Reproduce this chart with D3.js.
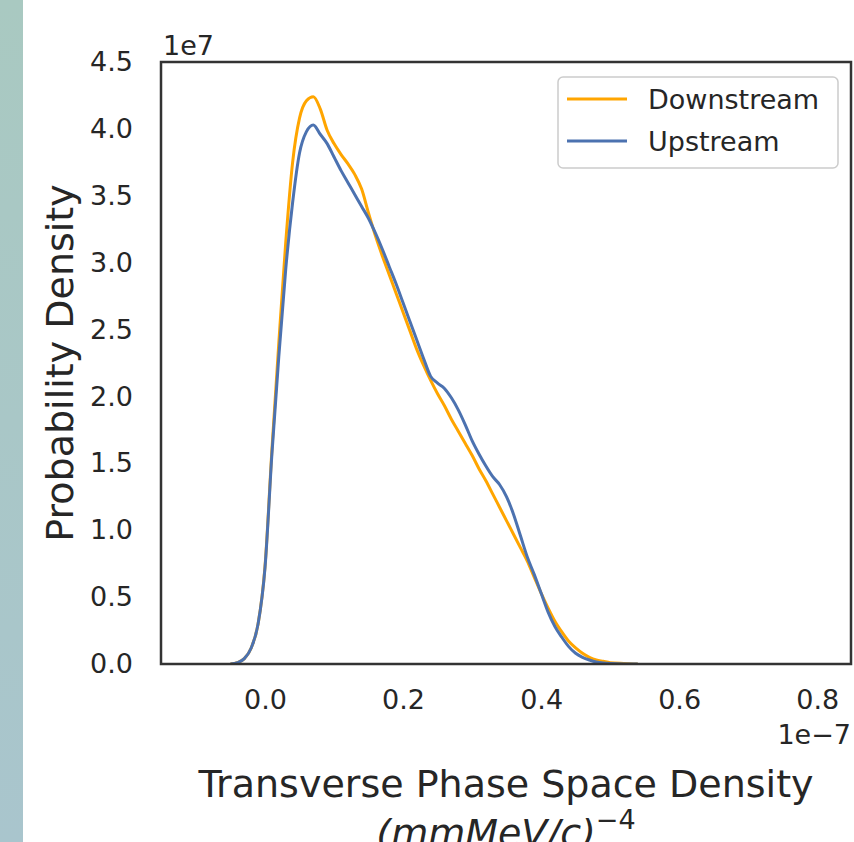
<!DOCTYPE html>
<html>
<head>
<meta charset="utf-8">
<script src="https://cdn.jsdelivr.net/npm/d3@7"></script>
<style>
  html, body { margin: 0; padding: 0; background: #fff; }
  svg text { font-family: "DejaVu Sans", sans-serif; fill: #262626; }
</style>
</head>
<body>
<svg id="chart" width="854" height="842"></svg>
<script>
// Data (x in units of 1e-7, density in units of 1e7)
const xGrid = [-0.05,-0.04,-0.03,-0.02,-0.01,0.00,0.01,0.02,0.03,0.04,0.05,0.06,0.07,0.08,0.09,0.10,
  0.11,0.12,0.13,0.14,0.15,0.16,0.17,0.18,0.19,0.20,0.21,0.22,0.23,0.24,0.25,0.26,0.27,0.28,0.29,0.30,
  0.31,0.32,0.33,0.34,0.35,0.36,0.37,0.38,0.39,0.40,0.41,0.42,0.43,0.44,0.45,0.46,0.47,0.48,0.49,0.50,0.52,0.54];
const downstream = [0,0.01,0.04,0.12,0.30,0.73,1.60,2.40,3.15,3.75,4.08,4.21,4.24,4.15,3.99,3.89,
  3.81,3.74,3.66,3.55,3.37,3.20,3.05,2.91,2.77,2.63,2.49,2.35,2.23,2.12,2.02,1.93,1.83,1.74,1.65,1.56,
  1.46,1.37,1.27,1.17,1.07,0.97,0.87,0.77,0.65,0.53,0.42,0.32,0.24,0.17,0.12,0.08,0.05,0.03,0.02,0.01,0.004,0];
const upstream = [0,0.01,0.04,0.12,0.30,0.72,1.57,2.30,2.95,3.45,3.82,3.98,4.03,3.96,3.89,3.79,
  3.69,3.60,3.51,3.42,3.33,3.22,3.10,2.97,2.84,2.70,2.56,2.42,2.28,2.15,2.10,2.06,1.99,1.90,1.79,1.67,
  1.57,1.48,1.40,1.34,1.25,1.12,0.96,0.80,0.67,0.53,0.39,0.28,0.20,0.13,0.08,0.05,0.03,0.015,0.007,0.003,0,0];
const seriesNames = ["Downstream", "Upstream"];
const seriesColors = ["#FFA500", "#4C72B0"];
const xTicks = [0.0, 0.2, 0.4, 0.6, 0.8];
const yTicks = [0.0, 0.5, 1.0, 1.5, 2.0, 2.5, 3.0, 3.5, 4.0, 4.5];

const svg = d3.select("#chart");

// left decorative strip
const defs = svg.append("defs");
const grad = defs.append("linearGradient").attr("id", "strip").attr("x1", 0).attr("y1", 0).attr("x2", 0).attr("y2", 1);
grad.append("stop").attr("offset", "0%").attr("stop-color", "#a9c9c1");
grad.append("stop").attr("offset", "100%").attr("stop-color", "#a9c5cd");
svg.append("rect").attr("x", 0).attr("y", 0).attr("width", 23).attr("height", 842).attr("fill", "url(#strip)");

const L = 161, R = 851, T = 62, B = 664;
const x = d3.scaleLinear().domain([-0.1507, 0.849]).range([L, R]);
const y = d3.scaleLinear().domain([0, 4.5]).range([B, T]);

defs.append("clipPath").attr("id", "plotclip").append("rect")
  .attr("x", L).attr("y", T).attr("width", R - L).attr("height", B - T);

// axes
const xAxis = svg.append("g").attr("transform", `translate(0,${B})`)
  .call(d3.axisBottom(x).tickValues(xTicks).tickSize(0).tickPadding(26).tickFormat(d3.format(".1f")));
const yAxis = svg.append("g").attr("transform", `translate(${L},0)`)
  .call(d3.axisLeft(y).tickValues(yTicks).tickSize(0).tickPadding(28).tickFormat(d3.format(".1f")));
[xAxis, yAxis].forEach(g => {
  g.select(".domain").remove();
  g.selectAll("text").style("font-family", "DejaVu Sans").style("font-size", "27px").attr("fill", "#262626");
});

// curves
const line = d3.line().x((d) => x(d[0])).y((d) => y(d[1])).curve(d3.curveMonotoneX);
const dataSets = [downstream, upstream];
const plot = svg.append("g").attr("clip-path", "url(#plotclip)");
dataSets.forEach((vals, i) => {
  plot.append("path")
    .datum(xGrid.map((xv, j) => [xv, vals[j]]))
    .attr("d", line)
    .attr("fill", "none")
    .attr("stroke", seriesColors[i])
    .attr("stroke-width", 3)
    .attr("stroke-linejoin", "round");
});

// frame
svg.append("rect").attr("x", L).attr("y", T).attr("width", R - L).attr("height", B - T)
  .attr("fill", "none").attr("stroke", "#333").attr("stroke-width", 2.5);

// offset texts
svg.append("text").attr("x", L + 2).attr("y", 55).attr("font-size", 27).text("1e7");
svg.append("text").attr("x", R).attr("y", 744).attr("font-size", 27).attr("text-anchor", "end").text("1e\u22127");

// legend
const lg = svg.append("g");
lg.append("rect").attr("x", 558).attr("y", 77).attr("width", 280).attr("height", 91).attr("rx", 5)
  .attr("fill", "#fff").attr("stroke", "#cccccc").attr("stroke-width", 1.5);
seriesNames.forEach((name, i) => {
  const yy = 99 + i * 42;
  lg.append("line").attr("x1", 567).attr("x2", 627).attr("y1", yy).attr("y2", yy)
    .attr("stroke", seriesColors[i]).attr("stroke-width", 3);
  lg.append("text").attr("x", 648).attr("y", yy + 10).attr("font-size", 27).text(name);
});

// axis labels
svg.append("text").attr("transform", `translate(73,${(T + B) / 2}) rotate(-90)`)
  .attr("text-anchor", "middle").attr("font-size", 38).text("Probability Density");
svg.append("text").attr("x", (L + R) / 2).attr("y", 797).attr("text-anchor", "middle")
  .attr("font-size", 38).text("Transverse Phase Space Density");
const l2 = svg.append("text").attr("x", (L + R) / 2).attr("y", 846).attr("text-anchor", "middle")
  .attr("font-size", 38);
l2.append("tspan").attr("font-style", "italic").text("(mmMeV/c)");
l2.append("tspan").attr("dy", -17).attr("font-size", 27).text("\u22124");
</script>
</body>
</html>
